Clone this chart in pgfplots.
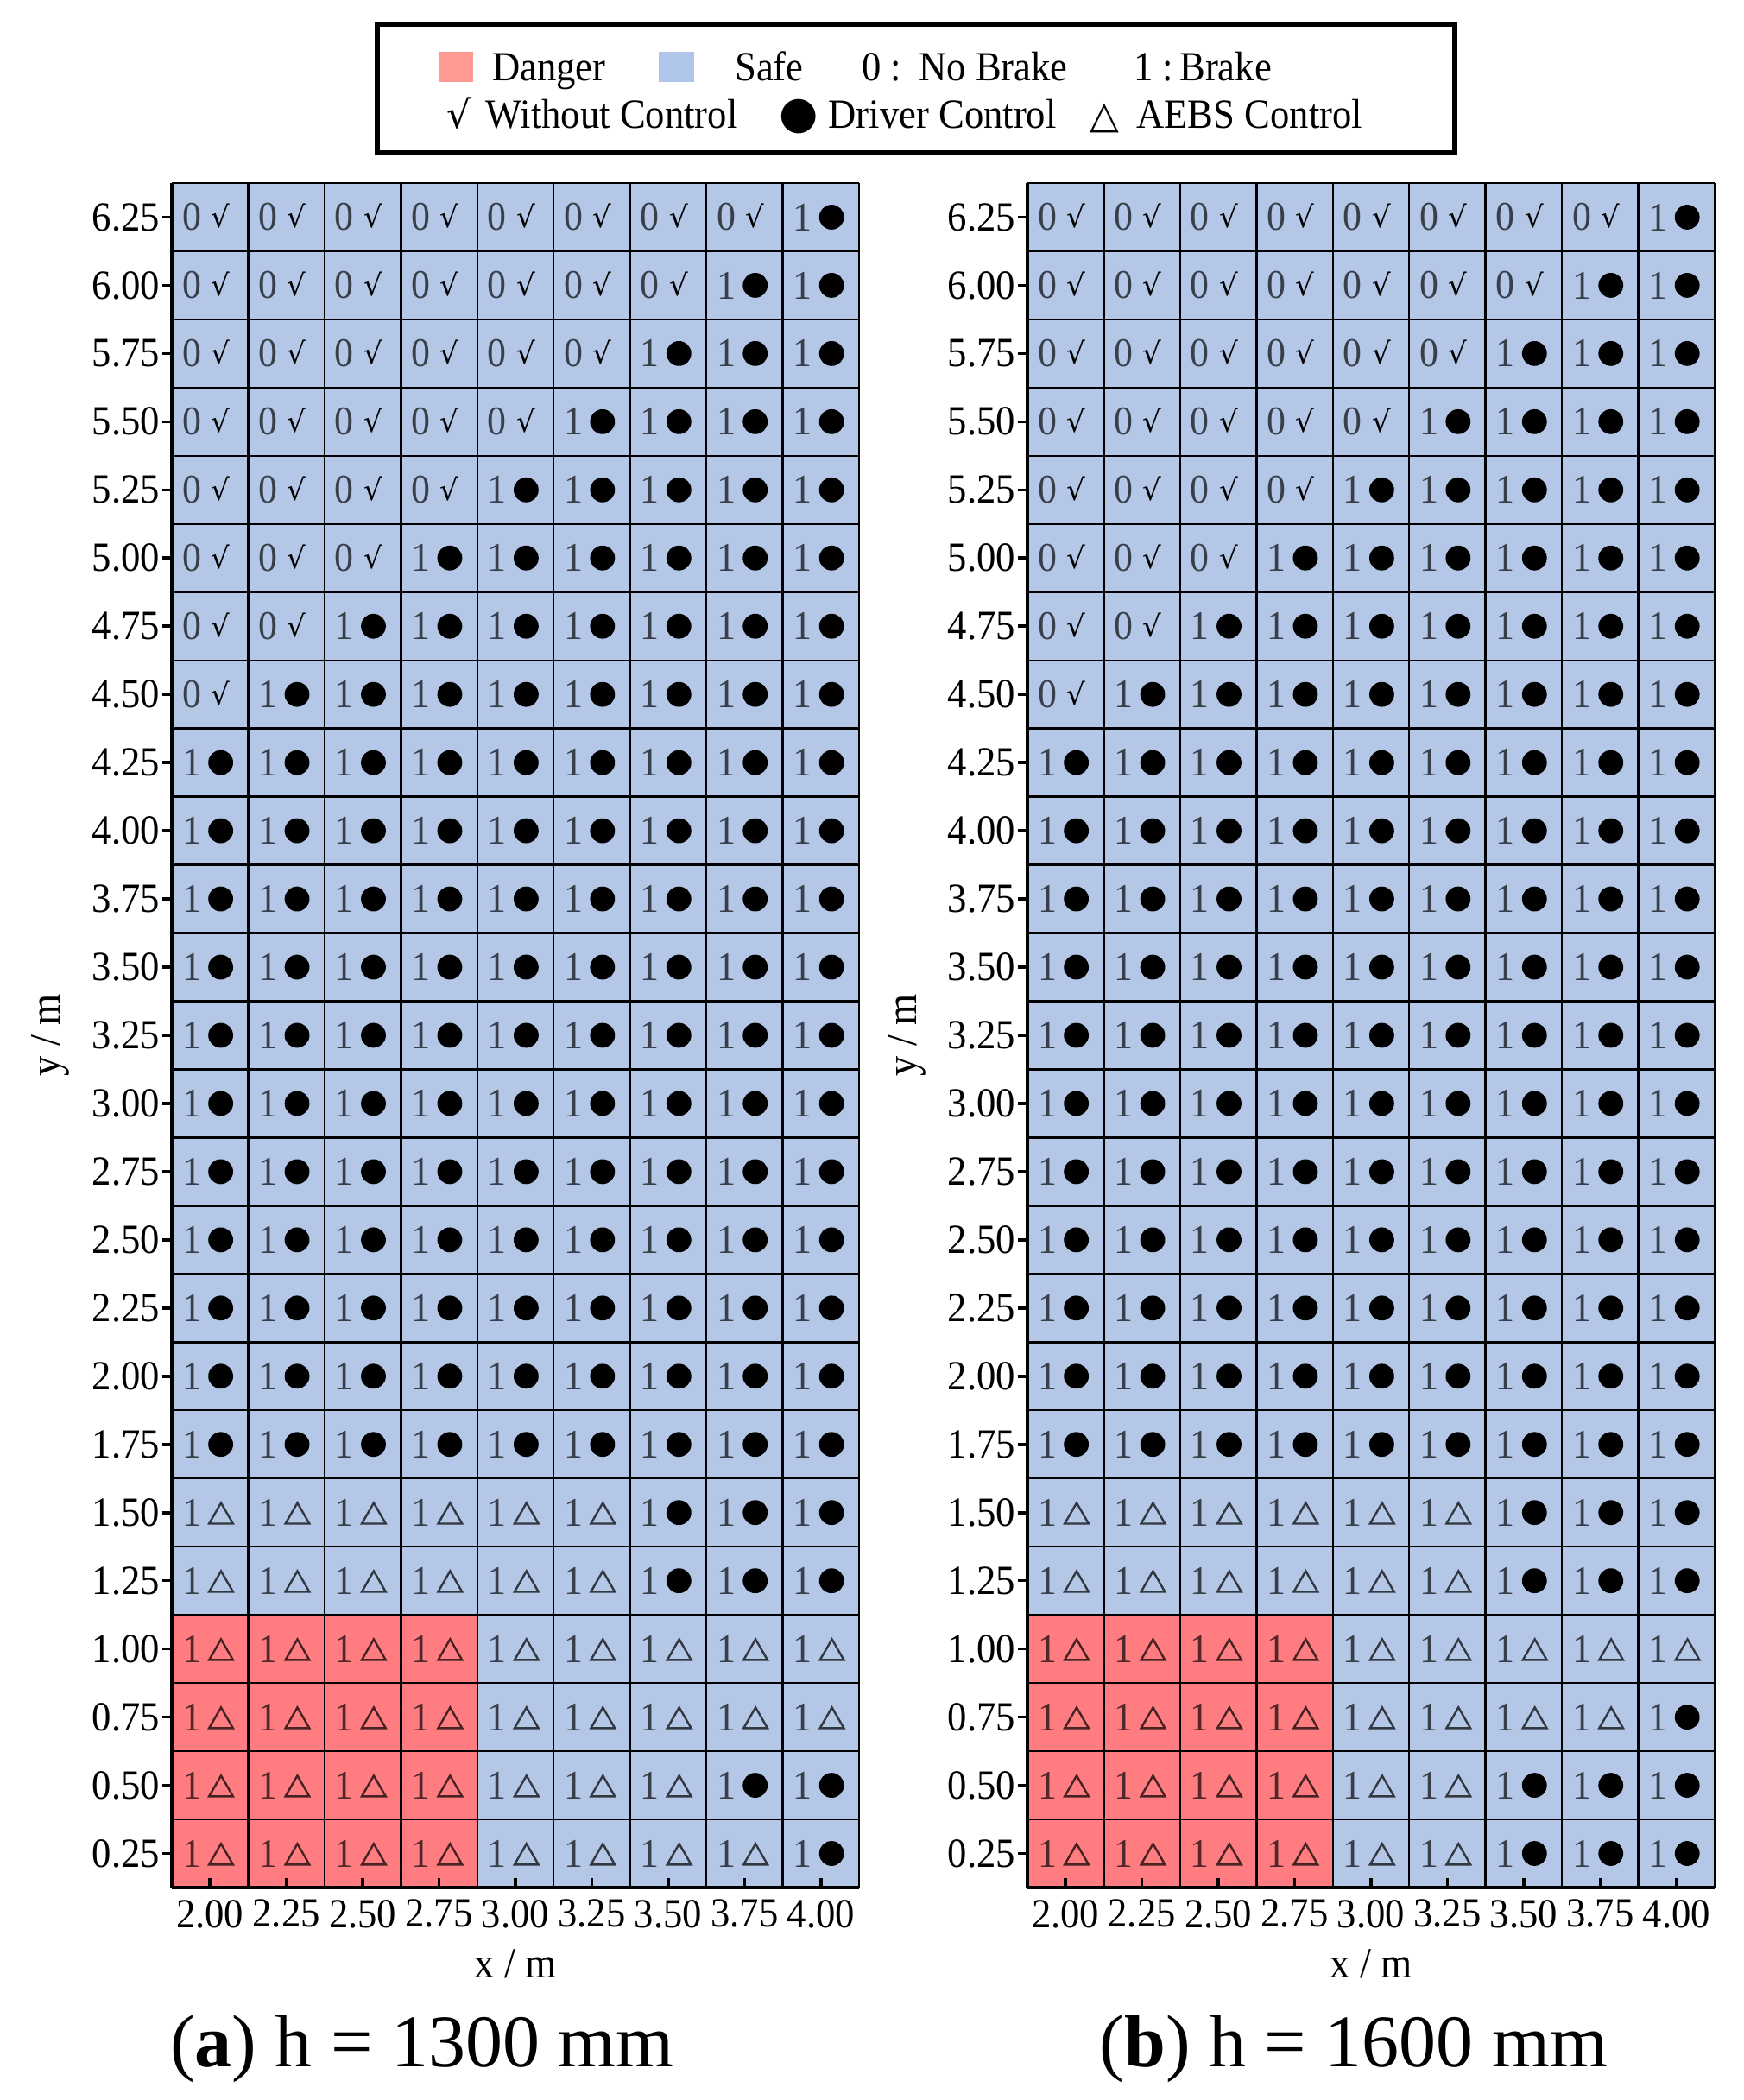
\documentclass[border=0pt]{standalone}
\usepackage{pgfplots}
\pgfplotsset{compat=1.18}
\usepackage{pgfplotstable}
\usepackage{fontspec}
\setmainfont[FakeStretch=0.93]{Liberation Serif}
\newfontfamily\capfont{Liberation Serif}
\newfontfamily\symfont{DejaVu Sans}

\definecolor{safeblue}{HTML}{B4C7E7}
\definecolor{dangerred}{HTML}{FF7C80}
\definecolor{legred}{HTML}{FF9A92}
\definecolor{legblue}{HTML}{AFC6EA}

% c: 0 = no brake, without control; 1 = brake, driver control; 2 = brake, AEBS control
\pgfplotstableread[row sep=\\]{
x y c\\
2.00 6.25 0\\ 2.25 6.25 0\\ 2.50 6.25 0\\ 2.75 6.25 0\\ 3.00 6.25 0\\ 3.25 6.25 0\\ 3.50 6.25 0\\ 3.75 6.25 0\\ 4.00 6.25 1\\
2.00 6.00 0\\ 2.25 6.00 0\\ 2.50 6.00 0\\ 2.75 6.00 0\\ 3.00 6.00 0\\ 3.25 6.00 0\\ 3.50 6.00 0\\ 3.75 6.00 1\\ 4.00 6.00 1\\
2.00 5.75 0\\ 2.25 5.75 0\\ 2.50 5.75 0\\ 2.75 5.75 0\\ 3.00 5.75 0\\ 3.25 5.75 0\\ 3.50 5.75 1\\ 3.75 5.75 1\\ 4.00 5.75 1\\
2.00 5.50 0\\ 2.25 5.50 0\\ 2.50 5.50 0\\ 2.75 5.50 0\\ 3.00 5.50 0\\ 3.25 5.50 1\\ 3.50 5.50 1\\ 3.75 5.50 1\\ 4.00 5.50 1\\
2.00 5.25 0\\ 2.25 5.25 0\\ 2.50 5.25 0\\ 2.75 5.25 0\\ 3.00 5.25 1\\ 3.25 5.25 1\\ 3.50 5.25 1\\ 3.75 5.25 1\\ 4.00 5.25 1\\
2.00 5.00 0\\ 2.25 5.00 0\\ 2.50 5.00 0\\ 2.75 5.00 1\\ 3.00 5.00 1\\ 3.25 5.00 1\\ 3.50 5.00 1\\ 3.75 5.00 1\\ 4.00 5.00 1\\
2.00 4.75 0\\ 2.25 4.75 0\\ 2.50 4.75 1\\ 2.75 4.75 1\\ 3.00 4.75 1\\ 3.25 4.75 1\\ 3.50 4.75 1\\ 3.75 4.75 1\\ 4.00 4.75 1\\
2.00 4.50 0\\ 2.25 4.50 1\\ 2.50 4.50 1\\ 2.75 4.50 1\\ 3.00 4.50 1\\ 3.25 4.50 1\\ 3.50 4.50 1\\ 3.75 4.50 1\\ 4.00 4.50 1\\
2.00 4.25 1\\ 2.25 4.25 1\\ 2.50 4.25 1\\ 2.75 4.25 1\\ 3.00 4.25 1\\ 3.25 4.25 1\\ 3.50 4.25 1\\ 3.75 4.25 1\\ 4.00 4.25 1\\
2.00 4.00 1\\ 2.25 4.00 1\\ 2.50 4.00 1\\ 2.75 4.00 1\\ 3.00 4.00 1\\ 3.25 4.00 1\\ 3.50 4.00 1\\ 3.75 4.00 1\\ 4.00 4.00 1\\
2.00 3.75 1\\ 2.25 3.75 1\\ 2.50 3.75 1\\ 2.75 3.75 1\\ 3.00 3.75 1\\ 3.25 3.75 1\\ 3.50 3.75 1\\ 3.75 3.75 1\\ 4.00 3.75 1\\
2.00 3.50 1\\ 2.25 3.50 1\\ 2.50 3.50 1\\ 2.75 3.50 1\\ 3.00 3.50 1\\ 3.25 3.50 1\\ 3.50 3.50 1\\ 3.75 3.50 1\\ 4.00 3.50 1\\
2.00 3.25 1\\ 2.25 3.25 1\\ 2.50 3.25 1\\ 2.75 3.25 1\\ 3.00 3.25 1\\ 3.25 3.25 1\\ 3.50 3.25 1\\ 3.75 3.25 1\\ 4.00 3.25 1\\
2.00 3.00 1\\ 2.25 3.00 1\\ 2.50 3.00 1\\ 2.75 3.00 1\\ 3.00 3.00 1\\ 3.25 3.00 1\\ 3.50 3.00 1\\ 3.75 3.00 1\\ 4.00 3.00 1\\
2.00 2.75 1\\ 2.25 2.75 1\\ 2.50 2.75 1\\ 2.75 2.75 1\\ 3.00 2.75 1\\ 3.25 2.75 1\\ 3.50 2.75 1\\ 3.75 2.75 1\\ 4.00 2.75 1\\
2.00 2.50 1\\ 2.25 2.50 1\\ 2.50 2.50 1\\ 2.75 2.50 1\\ 3.00 2.50 1\\ 3.25 2.50 1\\ 3.50 2.50 1\\ 3.75 2.50 1\\ 4.00 2.50 1\\
2.00 2.25 1\\ 2.25 2.25 1\\ 2.50 2.25 1\\ 2.75 2.25 1\\ 3.00 2.25 1\\ 3.25 2.25 1\\ 3.50 2.25 1\\ 3.75 2.25 1\\ 4.00 2.25 1\\
2.00 2.00 1\\ 2.25 2.00 1\\ 2.50 2.00 1\\ 2.75 2.00 1\\ 3.00 2.00 1\\ 3.25 2.00 1\\ 3.50 2.00 1\\ 3.75 2.00 1\\ 4.00 2.00 1\\
2.00 1.75 1\\ 2.25 1.75 1\\ 2.50 1.75 1\\ 2.75 1.75 1\\ 3.00 1.75 1\\ 3.25 1.75 1\\ 3.50 1.75 1\\ 3.75 1.75 1\\ 4.00 1.75 1\\
2.00 1.50 2\\ 2.25 1.50 2\\ 2.50 1.50 2\\ 2.75 1.50 2\\ 3.00 1.50 2\\ 3.25 1.50 2\\ 3.50 1.50 1\\ 3.75 1.50 1\\ 4.00 1.50 1\\
2.00 1.25 2\\ 2.25 1.25 2\\ 2.50 1.25 2\\ 2.75 1.25 2\\ 3.00 1.25 2\\ 3.25 1.25 2\\ 3.50 1.25 1\\ 3.75 1.25 1\\ 4.00 1.25 1\\
2.00 1.00 2\\ 2.25 1.00 2\\ 2.50 1.00 2\\ 2.75 1.00 2\\ 3.00 1.00 2\\ 3.25 1.00 2\\ 3.50 1.00 2\\ 3.75 1.00 2\\ 4.00 1.00 2\\
2.00 0.75 2\\ 2.25 0.75 2\\ 2.50 0.75 2\\ 2.75 0.75 2\\ 3.00 0.75 2\\ 3.25 0.75 2\\ 3.50 0.75 2\\ 3.75 0.75 2\\ 4.00 0.75 2\\
2.00 0.50 2\\ 2.25 0.50 2\\ 2.50 0.50 2\\ 2.75 0.50 2\\ 3.00 0.50 2\\ 3.25 0.50 2\\ 3.50 0.50 2\\ 3.75 0.50 1\\ 4.00 0.50 1\\
2.00 0.25 2\\ 2.25 0.25 2\\ 2.50 0.25 2\\ 2.75 0.25 2\\ 3.00 0.25 2\\ 3.25 0.25 2\\ 3.50 0.25 2\\ 3.75 0.25 2\\ 4.00 0.25 1\\
}\tabA

\pgfplotstableread[row sep=\\]{
x y c\\
2.00 6.25 0\\ 2.25 6.25 0\\ 2.50 6.25 0\\ 2.75 6.25 0\\ 3.00 6.25 0\\ 3.25 6.25 0\\ 3.50 6.25 0\\ 3.75 6.25 0\\ 4.00 6.25 1\\
2.00 6.00 0\\ 2.25 6.00 0\\ 2.50 6.00 0\\ 2.75 6.00 0\\ 3.00 6.00 0\\ 3.25 6.00 0\\ 3.50 6.00 0\\ 3.75 6.00 1\\ 4.00 6.00 1\\
2.00 5.75 0\\ 2.25 5.75 0\\ 2.50 5.75 0\\ 2.75 5.75 0\\ 3.00 5.75 0\\ 3.25 5.75 0\\ 3.50 5.75 1\\ 3.75 5.75 1\\ 4.00 5.75 1\\
2.00 5.50 0\\ 2.25 5.50 0\\ 2.50 5.50 0\\ 2.75 5.50 0\\ 3.00 5.50 0\\ 3.25 5.50 1\\ 3.50 5.50 1\\ 3.75 5.50 1\\ 4.00 5.50 1\\
2.00 5.25 0\\ 2.25 5.25 0\\ 2.50 5.25 0\\ 2.75 5.25 0\\ 3.00 5.25 1\\ 3.25 5.25 1\\ 3.50 5.25 1\\ 3.75 5.25 1\\ 4.00 5.25 1\\
2.00 5.00 0\\ 2.25 5.00 0\\ 2.50 5.00 0\\ 2.75 5.00 1\\ 3.00 5.00 1\\ 3.25 5.00 1\\ 3.50 5.00 1\\ 3.75 5.00 1\\ 4.00 5.00 1\\
2.00 4.75 0\\ 2.25 4.75 0\\ 2.50 4.75 1\\ 2.75 4.75 1\\ 3.00 4.75 1\\ 3.25 4.75 1\\ 3.50 4.75 1\\ 3.75 4.75 1\\ 4.00 4.75 1\\
2.00 4.50 0\\ 2.25 4.50 1\\ 2.50 4.50 1\\ 2.75 4.50 1\\ 3.00 4.50 1\\ 3.25 4.50 1\\ 3.50 4.50 1\\ 3.75 4.50 1\\ 4.00 4.50 1\\
2.00 4.25 1\\ 2.25 4.25 1\\ 2.50 4.25 1\\ 2.75 4.25 1\\ 3.00 4.25 1\\ 3.25 4.25 1\\ 3.50 4.25 1\\ 3.75 4.25 1\\ 4.00 4.25 1\\
2.00 4.00 1\\ 2.25 4.00 1\\ 2.50 4.00 1\\ 2.75 4.00 1\\ 3.00 4.00 1\\ 3.25 4.00 1\\ 3.50 4.00 1\\ 3.75 4.00 1\\ 4.00 4.00 1\\
2.00 3.75 1\\ 2.25 3.75 1\\ 2.50 3.75 1\\ 2.75 3.75 1\\ 3.00 3.75 1\\ 3.25 3.75 1\\ 3.50 3.75 1\\ 3.75 3.75 1\\ 4.00 3.75 1\\
2.00 3.50 1\\ 2.25 3.50 1\\ 2.50 3.50 1\\ 2.75 3.50 1\\ 3.00 3.50 1\\ 3.25 3.50 1\\ 3.50 3.50 1\\ 3.75 3.50 1\\ 4.00 3.50 1\\
2.00 3.25 1\\ 2.25 3.25 1\\ 2.50 3.25 1\\ 2.75 3.25 1\\ 3.00 3.25 1\\ 3.25 3.25 1\\ 3.50 3.25 1\\ 3.75 3.25 1\\ 4.00 3.25 1\\
2.00 3.00 1\\ 2.25 3.00 1\\ 2.50 3.00 1\\ 2.75 3.00 1\\ 3.00 3.00 1\\ 3.25 3.00 1\\ 3.50 3.00 1\\ 3.75 3.00 1\\ 4.00 3.00 1\\
2.00 2.75 1\\ 2.25 2.75 1\\ 2.50 2.75 1\\ 2.75 2.75 1\\ 3.00 2.75 1\\ 3.25 2.75 1\\ 3.50 2.75 1\\ 3.75 2.75 1\\ 4.00 2.75 1\\
2.00 2.50 1\\ 2.25 2.50 1\\ 2.50 2.50 1\\ 2.75 2.50 1\\ 3.00 2.50 1\\ 3.25 2.50 1\\ 3.50 2.50 1\\ 3.75 2.50 1\\ 4.00 2.50 1\\
2.00 2.25 1\\ 2.25 2.25 1\\ 2.50 2.25 1\\ 2.75 2.25 1\\ 3.00 2.25 1\\ 3.25 2.25 1\\ 3.50 2.25 1\\ 3.75 2.25 1\\ 4.00 2.25 1\\
2.00 2.00 1\\ 2.25 2.00 1\\ 2.50 2.00 1\\ 2.75 2.00 1\\ 3.00 2.00 1\\ 3.25 2.00 1\\ 3.50 2.00 1\\ 3.75 2.00 1\\ 4.00 2.00 1\\
2.00 1.75 1\\ 2.25 1.75 1\\ 2.50 1.75 1\\ 2.75 1.75 1\\ 3.00 1.75 1\\ 3.25 1.75 1\\ 3.50 1.75 1\\ 3.75 1.75 1\\ 4.00 1.75 1\\
2.00 1.50 2\\ 2.25 1.50 2\\ 2.50 1.50 2\\ 2.75 1.50 2\\ 3.00 1.50 2\\ 3.25 1.50 2\\ 3.50 1.50 1\\ 3.75 1.50 1\\ 4.00 1.50 1\\
2.00 1.25 2\\ 2.25 1.25 2\\ 2.50 1.25 2\\ 2.75 1.25 2\\ 3.00 1.25 2\\ 3.25 1.25 2\\ 3.50 1.25 1\\ 3.75 1.25 1\\ 4.00 1.25 1\\
2.00 1.00 2\\ 2.25 1.00 2\\ 2.50 1.00 2\\ 2.75 1.00 2\\ 3.00 1.00 2\\ 3.25 1.00 2\\ 3.50 1.00 2\\ 3.75 1.00 2\\ 4.00 1.00 2\\
2.00 0.75 2\\ 2.25 0.75 2\\ 2.50 0.75 2\\ 2.75 0.75 2\\ 3.00 0.75 2\\ 3.25 0.75 2\\ 3.50 0.75 2\\ 3.75 0.75 2\\ 4.00 0.75 1\\
2.00 0.50 2\\ 2.25 0.50 2\\ 2.50 0.50 2\\ 2.75 0.50 2\\ 3.00 0.50 2\\ 3.25 0.50 2\\ 3.50 0.50 1\\ 3.75 0.50 1\\ 4.00 0.50 1\\
2.00 0.25 2\\ 2.25 0.25 2\\ 2.50 0.25 2\\ 2.75 0.25 2\\ 3.00 0.25 2\\ 3.25 0.25 2\\ 3.50 0.25 1\\ 3.75 0.25 1\\ 4.00 0.25 1\\
}\tabB

\pgfplotsset{
  cellgrid/.style={
    width=199pt, height=493.5pt, scale only axis,
    xmin=1.875, xmax=4.125, ymin=0.125, ymax=6.375,
    axis background/.style={fill=safeblue},
    axis on top,
    axis lines*=left,
    axis line style={line width=1.1pt, black},
    xtick={2.00,2.25,2.50,2.75,3.00,3.25,3.50,3.75,4.00},
    ytick={0.25,0.50,0.75,1.00,1.25,1.50,1.75,2.00,2.25,2.50,2.75,3.00,3.25,3.50,3.75,4.00,4.25,4.50,4.75,5.00,5.25,5.50,5.75,6.00,6.25},
    minor xtick={2.125,2.375,2.625,2.875,3.125,3.375,3.625,3.875,4.125},
    minor ytick={0.375,0.625,0.875,1.125,1.375,1.625,1.875,2.125,2.375,2.625,2.875,3.125,3.375,3.625,3.875,4.125,4.375,4.625,4.875,5.125,5.375,5.625,5.875,6.125,6.375},
    minor tick length=0pt,
    xminorgrids=true, yminorgrids=true,
    minor grid style={black, line width=0.6pt},
    tick align=inside,
    major tick length=2.8pt,
    tick style={black, line width=0.9pt},
    ytick style={xshift=-2.8pt},
    tick label style={font=\fontsize{12}{12}\selectfont},
    /pgf/number format/fixed, /pgf/number format/fixed zerofill,
    /pgf/number format/precision=2, /pgf/number format/assume math mode=true,
    xlabel={x / m}, ylabel={y / m},
    every axis x label/.style={at={(axis description cs:0.5,-0.0446)}, anchor=center, font=\fontsize{12.5}{12.5}\selectfont},
    every axis y label/.style={at={(axis description cs:-0.176,0.5)}, anchor=center, rotate=90, font=\fontsize{12.5}{12.5}\selectfont},
  },
  digit/.style={only marks, mark=none, forget plot,
    nodes near coords={#1}, nodes near coords align=center,
    every node near coord/.append style={anchor=center, inner sep=0pt, xshift=-5.3pt,
      font=\fontsize{11.8}{11.8}\selectfont, text=black, text opacity=0.68}},
  checksym/.style={only marks, mark=none, forget plot,
    nodes near coords={\symfont √}, nodes near coords align=center,
    every node near coord/.append style={anchor=center, inner sep=0pt, xshift=3.0pt, yshift=0.3pt,
      font=\fontsize{8.5}{8.5}\selectfont, text=black}},
  dotsym/.style={only marks, forget plot, mark=*, mark size=3.4pt,
    mark options={xshift=3.1pt, fill=black, draw=black}},
  trisym/.style={only marks, forget plot, mark=triangle, mark size=4pt,
    mark options={xshift=3.2pt, yshift=-1.2pt, draw=black, draw opacity=0.72, line width=0.6pt}},
}

\begin{document}
\begin{tikzpicture}[x=1pt,y=1pt]
\useasboundingbox (0,0) rectangle (505,608);

% ---------------- panel (a) ----------------
\begin{axis}[cellgrid, at={(49.75pt,61.5pt)}, anchor=south west]
  % danger zone: upper edge y = 1.125 for 2.00 <= x <= 2.75
  \addplot[fill=dangerred, draw=none, forget plot] coordinates {(1.875,1.125) (2.875,1.125)} \closedcycle;
  \addplot[digit={0}, restrict expr to domain={\thisrow{c}}{-0.5:0.5}] table[x=x,y=y] {\tabA};
  \addplot[checksym, restrict expr to domain={\thisrow{c}}{-0.5:0.5}] table[x=x,y=y] {\tabA};
  \addplot[digit={1}, restrict expr to domain={\thisrow{c}}{0.5:2.5}] table[x=x,y=y] {\tabA};
  \addplot[dotsym, restrict expr to domain={\thisrow{c}}{0.5:1.5}] table[x=x,y=y] {\tabA};
  \addplot[trisym, restrict expr to domain={\thisrow{c}}{1.5:2.5}] table[x=x,y=y] {\tabA};
\end{axis}

% ---------------- panel (b) ----------------
\begin{axis}[cellgrid, at={(297.5pt,61.5pt)}, anchor=south west]
  \addplot[fill=dangerred, draw=none, forget plot] coordinates {(1.875,1.125) (2.875,1.125)} \closedcycle;
  \addplot[digit={0}, restrict expr to domain={\thisrow{c}}{-0.5:0.5}] table[x=x,y=y] {\tabB};
  \addplot[checksym, restrict expr to domain={\thisrow{c}}{-0.5:0.5}] table[x=x,y=y] {\tabB};
  \addplot[digit={1}, restrict expr to domain={\thisrow{c}}{0.5:2.5}] table[x=x,y=y] {\tabB};
  \addplot[dotsym, restrict expr to domain={\thisrow{c}}{0.5:1.5}] table[x=x,y=y] {\tabB};
  \addplot[trisym, restrict expr to domain={\thisrow{c}}{1.5:2.5}] table[x=x,y=y] {\tabB};
\end{axis}

% ---------------- legend ----------------
\draw[line width=1.3pt] (109.25,563.75) rectangle (421.25,601);
\fill[legred] (127,584.3) rectangle (137,592.9);
\fill[legblue] (190.8,584.3) rectangle (201,592.9);
\begin{scope}[every node/.style={anchor=base west, inner sep=0pt, font=\fontsize{12}{12}\selectfont}]
  \node at (142.3,584.7) {Danger};
  \node at (212.6,584.7) {Safe};
  \node at (249.4,584.7) {0 :\hspace{5pt}No Brake};
  \node at (328.1,584.7) {1 :\hspace{1.8pt}Brake};
  \node at (129.2,570.8) {{\symfont\fontsize{11}{11}\selectfont √}};
  \node at (140.4,570.8) {Without Control};
  \node at (225.5,570.8) {{\symfont\fontsize{13}{13}\selectfont ●}};
  \node at (239.7,570.8) {Driver Control};
  \node at (315.3,570.8) {{\symfont\fontsize{11}{11}\selectfont △}};
  \node at (328.9,570.8) {AEBS Control};
\end{scope}

% ---------------- captions ----------------
\node[anchor=base, inner sep=0pt, font=\capfont\fontsize{21.5}{21.5}\selectfont] at (122.2,9.5) {(\textbf{a}) h = 1300 mm};
\node[anchor=base, inner sep=0pt, font=\capfont\fontsize{21.5}{21.5}\selectfont] at (392,9.5) {(\textbf{b}) h = 1600 mm};
\end{tikzpicture}
\end{document}
